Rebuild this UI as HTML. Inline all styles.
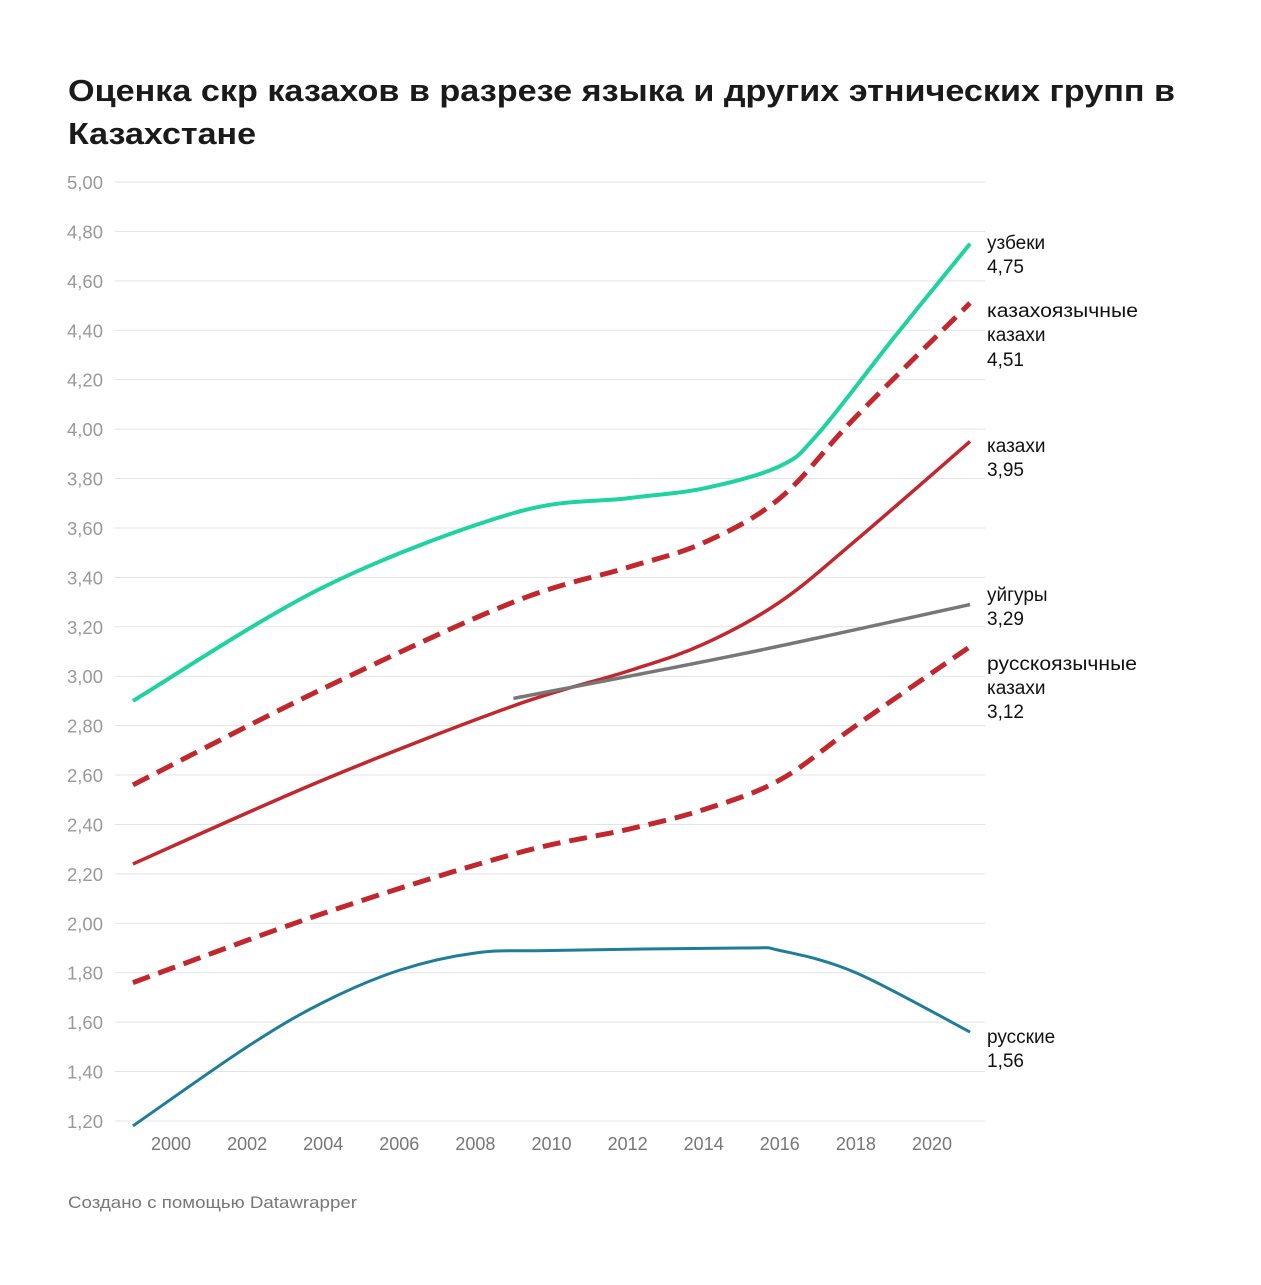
<!DOCTYPE html>
<html><head><meta charset="utf-8"><style>
body{margin:0;background:#fff;width:1261px;height:1280px;overflow:hidden;font-family:"Liberation Sans",sans-serif}
</style></head><body>
<svg id="s" width="1261" height="1280" xmlns="http://www.w3.org/2000/svg" font-family="Liberation Sans, sans-serif">
<text x="68" y="101" font-size="31" font-weight="bold" fill="#1a1a1a" textLength="1107" lengthAdjust="spacingAndGlyphs">Оценка скр казахов в разрезе языка и других этнических групп в</text>
<text x="68" y="144" font-size="31" font-weight="bold" fill="#1a1a1a" textLength="188" lengthAdjust="spacingAndGlyphs">Казахстане</text>
<g id="grid"></g>
<g id="lines" fill="none" stroke-linecap="butt"></g>
<g font-size="19" fill="#111">
<text x="987" y="249">узбеки</text><text x="987" y="273">4,75</text>
<text x="987" y="317" textLength="151" lengthAdjust="spacingAndGlyphs">казахоязычные</text><text x="987" y="341">казахи</text><text x="987" y="366">4,51</text>
<text x="987" y="452">казахи</text><text x="987" y="476">3,95</text>
<text x="987" y="601">уйгуры</text><text x="987" y="625">3,29</text>
<text x="987" y="670" textLength="150" lengthAdjust="spacingAndGlyphs">русскоязычные</text><text x="987" y="694">казахи</text><text x="987" y="718">3,12</text>
<text x="987" y="1043">русские</text><text x="987" y="1067">1,56</text>
</g>
<text x="68" y="1208" font-size="17" fill="#777" textLength="289" lengthAdjust="spacingAndGlyphs">Создано с помощью Datawrapper</text>
</svg>
<script>
var NS="http://www.w3.org/2000/svg",g=document.getElementById('grid'),L=document.getElementById('lines');
function Y(v){return 182+(5-v)*247.1}function X(yr){return 171+(yr-2000)*38.05}
function el(p,t,a,txt){var e=document.createElementNS(NS,t);for(var k in a)e.setAttribute(k,a[k]);if(txt)e.textContent=txt;p.appendChild(e);return e}
for(var i=0;i<=19;i++){var v=5-i*0.2,y=Y(v);el(g,'line',{x1:115,x2:985,y1:y,y2:y,stroke:'#e3e3e3','stroke-width':1});
el(g,'text',{x:67,y:y+7,'font-size':18.5,fill:'#999'},v.toFixed(2).replace('.',','));}
for(var yr=2000;yr<=2020;yr+=2)el(g,'text',{x:X(yr),y:1150,'font-size':18,fill:'#777','text-anchor':'middle'},yr);
function path(pts){var P=pts.map(function(p){return[X(p[0]),Y(p[1])]});var d='M'+P[0][0]+','+P[0][1];
for(var i=0;i<P.length-1;i++){var p0=P[i-1]||P[i],p1=P[i],p2=P[i+1],p3=P[i+2]||p2;
d+=' C'+(p1[0]+(p2[0]-p0[0])/6)+','+(p1[1]+(p2[1]-p0[1])/6)+' '+(p2[0]-(p3[0]-p1[0])/6)+','+(p2[1]-(p3[1]-p1[1])/6)+' '+p2[0]+','+p2[1];}return d}
var S=[
[[[1999,2.90],[2004,3.36],[2009,3.66],[2012,3.72],[2014,3.76],[2016,3.85],[2017,3.98],[2019,4.37],[2021,4.75]],'#1fd3a0',4,''],
[[[1999,2.56],[2004,2.95],[2009,3.30],[2012,3.44],[2014,3.54],[2016,3.72],[2018,4.05],[2021,4.51]],'#c1272d',5,'18,9'],
[[[1999,2.24],[2004,2.58],[2009,2.88],[2012,3.02],[2014,3.13],[2016,3.30],[2018,3.55],[2021,3.95]],'#c1272d',3.5,''],
[[[2009,2.91],[2015,3.09],[2021,3.29]],'#777',3.5,''],
[[[1999,1.76],[2004,2.04],[2009,2.28],[2012,2.38],[2014,2.46],[2016,2.58],[2018,2.80],[2021,3.12]],'#c1272d',5,'18,9'],
[[[1999,1.18],[2002,1.50],[2004,1.68],[2006,1.81],[2008,1.88],[2010,1.89],[2015,1.90],[2016,1.89],[2018,1.80],[2021,1.56]],'#1f7d99',3,'']];
S.forEach(function(s){var a={d:path(s[0]),stroke:s[1],'stroke-width':s[2]};if(s[3])a['stroke-dasharray']=s[3];el(L,'path',a);});
</script>
</body></html>
